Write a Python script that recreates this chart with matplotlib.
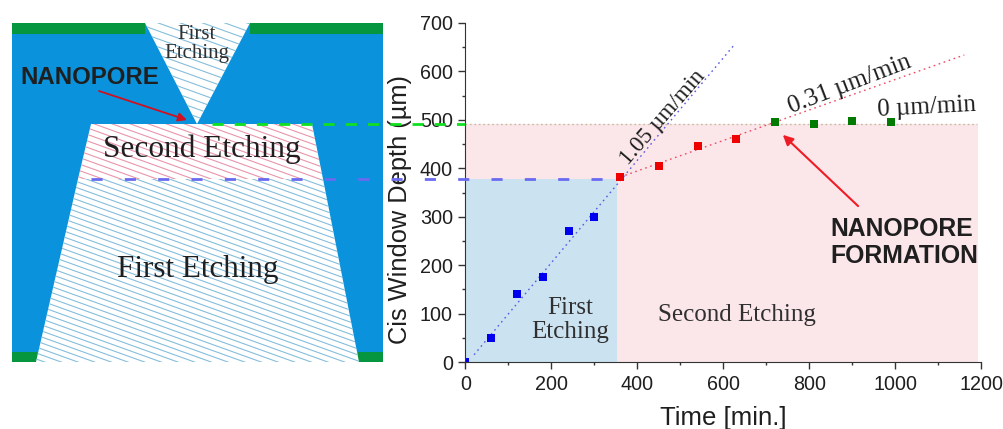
import matplotlib
matplotlib.use("Agg")
import matplotlib.pyplot as plt
import numpy as np
from matplotlib.collections import LineCollection
from matplotlib.patches import Polygon, Rectangle

plt.rcParams['font.family'] = ['Liberation Sans', 'DejaVu Sans']

# chart values
first_time = [0, 60, 120, 180, 240, 300]
first_depth = [0, 50, 140, 175, 270, 300]
second_time = [360, 450, 540, 630]
second_depth = [382, 405, 447, 460]
third_time = [720, 810, 900, 990]
third_depth = [495, 491, 498, 495]
first_fit_x = [20, 627]
first_fit_y = [15, 657]
second_fit_x = [360, 1160]
second_fit_y = [382, 634]
stop_fit_x = [0, 1190]
stop_fit_y = [492, 492]
x_ticks = [0, 200, 400, 600, 800, 1000, 1200]
y_ticks = [0, 100, 200, 300, 400, 500, 600, 700]

# schematic outline, in pixels of the picture
wafer_x = [12, 383]
wafer_y = [23, 362]
top_masks = [(12, 145), (250, 383)]
bottom_masks = [(12, 37), (358, 383)]
top_pit = [(145, 23), (250, 23), (197, 124)]
second_zone = [(91, 124), (312, 124), (323, 179), (78, 179)]
first_zone = [(78, 179), (323, 179), (359, 362), (36, 362)]

blue_ = '#0a93dc'
green_ = '#06963f'
pink_ = '#fbe6ea'
sky_ = '#cbe3f1'
hatch_blue = '#86bedb'
hatch_red = '#e896aa'
serif = ['Liberation Serif', 'DejaVu Serif']
dark = '#1f1f1f'


def hatched(ax, corners, color, step):
    poly = Polygon(corners, closed=True, facecolor='white', edgecolor='none')
    ax.add_patch(poly)
    segs = [[(0, c), (420, c + 420 * 0.36)] for c in np.arange(-170, 400, step)]
    lines = LineCollection(segs, colors=color, linewidths=0.8)
    ax.add_collection(lines)
    lines.set_clip_path(poly)


fig = plt.figure(figsize=(10.04, 4.29), dpi=100)

# chart
ax = fig.add_axes([465.5 / 1004, 67 / 429, 516 / 1004, 339 / 429])
ax.patch.set_alpha(0)
ax.add_patch(Rectangle((0, 0), 352, 378, facecolor=sky_, edgecolor='none'))
ax.add_patch(Rectangle((352, 0), 840, 378, facecolor=pink_, edgecolor='none'))
ax.add_patch(Rectangle((0, 378), 1192, 114, facecolor=pink_, edgecolor='none'))
ax.plot(stop_fit_x, stop_fit_y, lw=1, dashes=(1.2, 2), color='#c9b9a0')
ax.plot(first_fit_x, first_fit_y, lw=1, dashes=(1.2, 2.6), color='#5a5ae6')
ax.plot(second_fit_x, second_fit_y, lw=1, dashes=(1.2, 2.6), color='#f04a62')
ax.plot(first_time, first_depth, 's', ms=5.4, color='#0000ee', mew=0)
ax.plot(second_time, second_depth, 's', ms=5.4, color='#ee0000', mew=0)
ax.plot(third_time, third_depth, 's', ms=5.4, color='#007a00', mew=0)
ax.set_xlim(0, 1200)
ax.set_ylim(0, 700)
ax.set_xticks(x_ticks)
ax.set_yticks(y_ticks)
ax.set_xticks(np.arange(100, 1200, 200), minor=True)
ax.set_yticks(np.arange(50, 700, 100), minor=True)
ax.spines['top'].set_visible(False)
ax.spines['right'].set_visible(False)
ax.spines['left'].set_color('#333333')
ax.spines['bottom'].set_color('#333333')
ax.tick_params(which='major', length=5, width=1, color='#333333', labelsize=14.2, labelcolor=dark, pad=4)
ax.tick_params(which='minor', length=2.5, width=1, color='#333333')
ax.set_xlabel('Time [min.]', fontsize=18.5, color=dark, labelpad=9)
ax.set_ylabel('Cis Window Depth (µm)', fontsize=18.3, color=dark)
ax.yaxis.set_label_coords(-0.103, 0.45)

ax.text(243, 87, 'First\nEtching', family=serif, fontsize=18, color='#303030', ha='center', va='center', linespacing=1.1)
ax.text(631, 97, 'Second Etching', family=serif, fontsize=18, color='#303030', ha='center', va='center')
ax.text(459, 504, '1.05 µm/min', family=serif, fontsize=16.5, color=dark, rotation=49, ha='center', va='center')
ax.text(894, 574, '0.31 µm/min', family=serif, fontsize=18, color=dark, rotation=21, ha='center', va='center')
ax.text(1073, 525, '0 µm/min', family=serif, fontsize=18, color=dark, rotation=3, ha='center', va='center')
ax.text(848, 247, 'NANOPORE\nFORMATION', fontsize=17.8, fontweight='bold', color=dark, ha='left', va='center', linespacing=1.12)
ax.annotate('', xy=(738, 469), xytext=(913, 322),
            arrowprops=dict(arrowstyle='-|>', color='#ee1c25', lw=1.5, mutation_scale=15, shrinkA=0, shrinkB=0))

# schematic and the dashes that run across into the chart
over = fig.add_axes([0, 0, 1, 1])
over.set_xlim(0, 1004)
over.set_ylim(429, 0)
over.axis('off')
over.add_patch(Rectangle((wafer_x[0], wafer_y[0]), wafer_x[1] - wafer_x[0], wafer_y[1] - wafer_y[0], facecolor=blue_, edgecolor='none'))
for x0, x1 in top_masks:
    over.add_patch(Rectangle((x0, 23), x1 - x0, 10.5, facecolor=green_, edgecolor='none'))
for x0, x1 in bottom_masks:
    over.add_patch(Rectangle((x0, 352), x1 - x0, 10, facecolor=green_, edgecolor='none'))
hatched(over, top_pit, hatch_blue, 8)
hatched(over, first_zone, hatch_blue, 6)
hatched(over, second_zone, hatch_red, 6.5)

over.plot([212, 465], [124, 124], color='#11e01f', lw=2, dashes=(4, 4))
over.plot([91, 615], [179, 179], color='#6a6af0', lw=2, dashes=(4, 8))

over.text(197, 44, 'First\nEtching', family=serif, fontsize=15, color='#303030', ha='center', va='center', linespacing=1.05)
over.text(202, 149, 'Second Etching', family=serif, fontsize=22.5, color=dark, ha='center', va='center')
over.text(198, 269, 'First Etching', family=serif, fontsize=22.4, color=dark, ha='center', va='center')
over.text(20, 78, 'NANOPORE', fontsize=17.3, fontweight='bold', color=dark, ha='left', va='center')
over.annotate('', xy=(187, 120), xytext=(99, 91),
              arrowprops=dict(arrowstyle='-|>', color='#d01020', lw=1.3, mutation_scale=13, shrinkA=0, shrinkB=0))

fig.savefig('out.png', dpi=100)
